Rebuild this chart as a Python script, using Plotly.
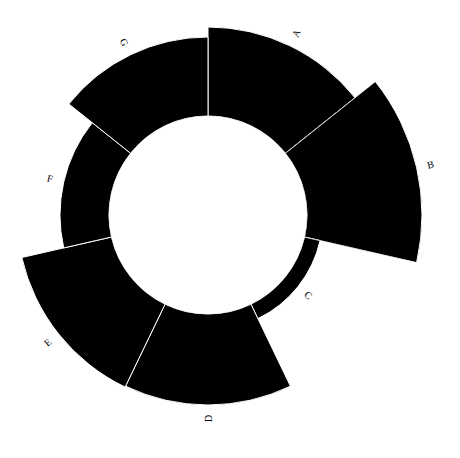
import math
import plotly.graph_objects as go

categories = ["A", "B", "C", "D", "E", "F", "G"]
values = [89, 115, 16, 91, 92, 49, 79]

# page body adds an 8px margin, so the figure is 8px smaller than the window
W, H = 452, 450
cx, cy = 200, 207
R = 200          # main polar radius (px)
hole_px = 99     # inner radius (px)
rmax = R - hole_px   # 1 data unit = 1 px

step = 360 / len(categories)
rotation = 90 - step / 2

bar_style = dict(color="black", line=dict(color="white", width=1))
ang_axis = dict(direction="clockwise", rotation=rotation, showticklabels=False,
                showgrid=False, showline=False, ticks="",
                categoryorder="array", categoryarray=categories)

fig = go.Figure()
fig.add_trace(go.Barpolar(r=values, theta=categories, marker=bar_style,
                          hoverinfo="skip", showlegend=False, subplot="polar"))

# second polar subplot: a sector around the longest bar so that it can exceed
# the space left of the main circle (same centre, same scale)
imax = max(range(len(values)), key=lambda i: values[i])
s_lo = 90 - (imax + 1) * step
s_hi = 90 - imax * step
R2 = 222
rmax2 = R2 - hole_px


def bbox(a0, a1):
    xs = [0.0, math.cos(math.radians(a0)), math.cos(math.radians(a1))]
    ys = [0.0, math.sin(math.radians(a0)), math.sin(math.radians(a1))]
    for k in range(-4, 8):
        a = 90 * k
        if a0 <= a <= a1:
            xs.append(math.cos(math.radians(a)))
            ys.append(math.sin(math.radians(a)))
    return min(xs), min(ys), max(xs), max(ys)


bx0, by0, bx1, by1 = bbox(s_lo, s_hi)
d2x = [cx + R2 * bx0, cx + R2 * bx1]
d2y = [cy - R2 * by1, cy + R2 * (-by0)]

fig.add_trace(go.Barpolar(r=values, theta=categories, marker=bar_style,
                          hoverinfo="skip", showlegend=False, subplot="polar2"))

annotations = []
for i, (cat, v) in enumerate(zip(categories, values)):
    ang = step / 2 + i * step
    rp = hole_px + v + 14
    x = cx + rp * math.sin(math.radians(ang))
    y = cy - rp * math.cos(math.radians(ang))
    rot = ang - 90 if ang < 180 else ang + 90
    annotations.append(dict(
        x=x / W, y=1 - y / H, xref="paper", yref="paper",
        text=cat, showarrow=False, textangle=rot,
        font=dict(family="Liberation Serif", size=10, color="black"),
        xanchor="center", yanchor="middle",
    ))

fig.update_layout(
    width=W, height=H,
    margin=dict(l=0, r=0, t=0, b=0),
    paper_bgcolor="white", plot_bgcolor="white",
    annotations=annotations,
    polar=dict(
        domain=dict(x=[(cx - R) / W, (cx + R) / W], y=[1 - (cy + R) / H, 1 - (cy - R) / H]),
        bgcolor="white", bargap=0, hole=hole_px / R,
        radialaxis=dict(range=[0, rmax], visible=False, showgrid=False),
        angularaxis=ang_axis,
    ),
    polar2=dict(
        domain=dict(x=[d2x[0] / W, d2x[1] / W], y=[1 - d2y[1] / H, 1 - d2y[0] / H]),
        sector=[s_lo, s_hi],
        bgcolor="rgba(0,0,0,0)", bargap=0, hole=hole_px / R2,
        radialaxis=dict(range=[0, rmax2], visible=False, showgrid=False),
        angularaxis=ang_axis,
    ),
)
fig.write_html("out.html")
